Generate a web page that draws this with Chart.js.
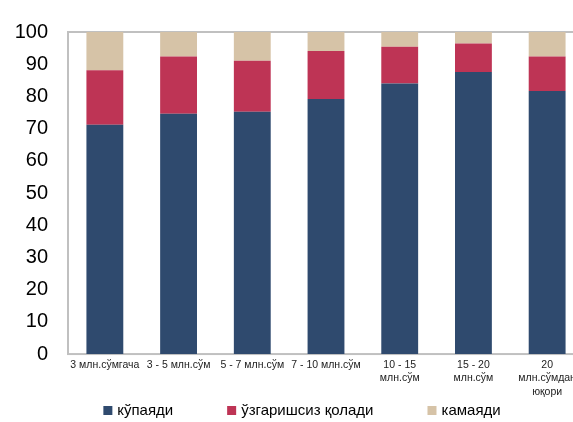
<!DOCTYPE html>
<html>
<head>
<meta charset="utf-8">
<script src="https://cdn.jsdelivr.net/npm/chart.js@4/dist/chart.umd.min.js"></script>
<style>
  html, body { margin: 0; padding: 0; background: #fff; overflow: hidden; }
  #wrap { width: 590px; height: 422px; }
</style>
</head>
<body>
<div id="wrap"><canvas id="mychart"></canvas></div>
<script>
//DATA---------------------------------------------------------------
const categorias = [
  "3 млн.сўмгача",
  "3 - 5 млн.сўм",
  "5 - 7 млн.сўм",
  "7 - 10 млн.сўм",
  ["10 - 15", "млн.сўм"],
  ["15 - 20", "млн.сўм"],
  ["20", "млн.сўмдан", "юқори"]
];
const seriesNomes = ["кўпаяди", "ўзгаришсиз қолади", "камаяди"];
const kopayadi = [71.2, 74.6, 75.2, 79.2, 84.0, 87.6, 81.7];
const ozgarishsiz = [16.9, 17.8, 15.9, 14.9, 11.4, 8.8, 10.7];
const kamayadi = [11.9, 7.6, 8.9, 5.9, 4.6, 3.6, 7.6];
const yTicks = [0, 10, 20, 30, 40, 50, 60, 70, 80, 90, 100];
const cores = ["#2f4a6e", "#be3455", "#d6c3a7"];
//-------------------------------------------------------------------

const FONTE = "'Liberation Sans', Arial, sans-serif";

//PLUGIN MOLDURA (frame around plot area)
const moldura = {
  id: "moldura",
  beforeDatasetsDraw(chart) {
    const { ctx, chartArea: a } = chart;
    ctx.save();
    ctx.strokeStyle = "#c0c0c0";
    ctx.lineWidth = 2;
    ctx.strokeRect(a.left, a.top, a.right - a.left, a.bottom - a.top);
    ctx.restore();
  }
};

//PLUGIN LEGENDA (bottom legend, built from the datasets)
const legenda = {
  id: "legenda",
  afterDraw(chart) {
    const ctx = chart.ctx;
    const box = 9, gapTexto = 5, gapItem = 54, centro = 302, y = 411;
    ctx.save();
    ctx.font = "15px " + FONTE;
    ctx.textBaseline = "middle";
    const itens = chart.data.datasets.map(function (ds) {
      return { texto: ds.label, cor: ds.backgroundColor, w: box + gapTexto + ctx.measureText(ds.label).width };
    });
    const total = itens.reduce((s, it) => s + it.w, 0) + gapItem * (itens.length - 1);
    let x = centro - total / 2;
    itens.forEach(function (it) {
      ctx.fillStyle = it.cor;
      ctx.fillRect(x, y - 5, box, box);
      ctx.fillStyle = "#000";
      ctx.fillText(it.texto, x + box + gapTexto, y);
      x += it.w + gapItem;
    });
    ctx.restore();
  }
};

//BARRAS FUNÇÃO------------------------------------------------------
function bar() {
  const dados = [kopayadi, ozgarishsiz, kamayadi];
  const data = {
    labels: categorias,
    datasets: seriesNomes.map(function (nome, i) {
      return {
        label: nome,
        data: dados[i],
        backgroundColor: cores[i],
        barPercentage: 0.5,
        categoryPercentage: 1.0
      };
    })
  };
  const config = {
    type: "bar",
    data: data,
    options: {
      responsive: true,
      maintainAspectRatio: false,
      animation: false,
      layout: { padding: { left: 15, right: 6, top: 25, bottom: 19 } },
      plugins: {
        legend: { display: false },
        tooltip: { enabled: false }
      },
      scales: {
        x: {
          stacked: true,
          offset: true,
          grid: { display: false, drawTicks: false },
          border: { display: false },
          ticks: {
            autoSkip: false,
            maxRotation: 0,
            minRotation: 0,
            padding: 4,
            color: "#222",
            font: { family: FONTE, size: 10.5, lineHeight: 1.3 }
          }
        },
        y: {
          stacked: true,
          min: 0,
          max: 100,
          afterBuildTicks: function (axis) {
            axis.ticks = yTicks.map(v => ({ value: v }));
          },
          afterFit: function (axis) {
            axis.width = 53;
          },
          grid: { display: false, drawTicks: false },
          border: { display: false },
          ticks: {
            padding: 20,
            color: "#000",
            font: { family: FONTE, size: 20 }
          }
        }
      }
    },
    plugins: [moldura, legenda]
  };
  return new Chart(document.getElementById("mychart"), config);
}
const barChart = bar();
//-------------------------------------------------------------------
</script>
</body>
</html>
